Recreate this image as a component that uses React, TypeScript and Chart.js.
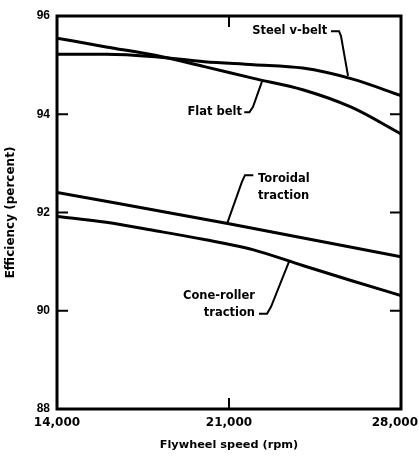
import React, { useEffect, useRef } from "react";
import { Chart, registerables } from "chart.js";

Chart.register(...registerables);

const speeds = [14000, 16000, 18000, 20000, 22000, 24000, 26000, 28000];
const steelVBelt = [95.22, 95.22, 95.17, 95.07, 95.01, 94.94, 94.72, 94.38];
const flatBelt = [95.55, 95.37, 95.2, 94.97, 94.73, 94.5, 94.14, 93.6];
const toroidalSpeeds = [14000, 21000, 28000];
const toroidal = [92.41, 91.77, 91.1];
const coneRoller = [91.92, 91.8, 91.63, 91.45, 91.24, 90.92, 90.61, 90.31];

const xTicks = [14000, 21000, 28000];
const yTicks = [88, 90, 92, 94, 96];

// labels: text lines, anchor (rpm, value), alignment, leader polyline in data coords
const labels = [
  {
    lines: ["Steel v-belt"],
    x: 25000, y: 95.69, align: "right",
    leader: [[25150, 95.69], [25477, 95.69], [25558, 95.59], [25844, 94.78]],
  },
  {
    lines: ["Flat belt"],
    x: 21530, y: 94.05, align: "right",
    leader: [[21620, 94.04], [21830, 94.04], [21977, 94.15], [22344, 94.67]],
  },
  {
    lines: ["Toroidal", "traction"],
    x: 22180, y: 92.69, align: "left",
    leader: [[21990, 92.76], [21651, 92.76], [21529, 92.63], [20919, 91.77]],
  },
  {
    lines: ["Cone-roller", "traction"],
    x: 22058, y: 90.31, align: "right",
    leader: [[22221, 89.94], [22547, 89.94], [22710, 90.08], [23443, 91.0]],
  },
];

const FONT = "'DejaVu Sans', 'Liberation Sans', sans-serif";

const framePlugin = {
  id: "frame",
  beforeDraw(chart: any) {
    const xs = chart.scales.x;
    const items = xs.getLabelItems(chart.chartArea);
    if (items && items.length) {
      const last = items[items.length - 1];
      last.options.textAlign = "right";
      last.options.translation = [chart.width - 1, last.options.translation[1]];
    }
  },
  afterDatasetsDraw(chart: any) {
    const { ctx, chartArea } = chart;
    const xs = chart.scales.x;
    const ys = chart.scales.y;
    ctx.save();
    ctx.strokeStyle = "#000";
    ctx.lineWidth = 3;
    ctx.strokeRect(chartArea.left, chartArea.top, chartArea.right - chartArea.left, chartArea.bottom - chartArea.top);
    ctx.lineWidth = 2;
    const tl = 11;
    yTicks.slice(1, -1).forEach((v) => {
      const py = ys.getPixelForValue(v);
      ctx.beginPath();
      ctx.moveTo(chartArea.left, py);
      ctx.lineTo(chartArea.left + tl, py);
      ctx.moveTo(chartArea.right, py);
      ctx.lineTo(chartArea.right - tl, py);
      ctx.stroke();
    });
    xTicks.slice(1, -1).forEach((v) => {
      const px = xs.getPixelForValue(v);
      ctx.beginPath();
      ctx.moveTo(px, chartArea.top);
      ctx.lineTo(px, chartArea.top + tl);
      ctx.moveTo(px, chartArea.bottom);
      ctx.lineTo(px, chartArea.bottom - tl);
      ctx.stroke();
    });
    // labels
    ctx.fillStyle = "#000";
    ctx.font = `bold 11.5px ${FONT}`;
    ctx.textBaseline = "middle";
    labels.forEach((l) => {
      const px = xs.getPixelForValue(l.x);
      const py = ys.getPixelForValue(l.y);
      ctx.textAlign = l.align as CanvasTextAlign;
      l.lines.forEach((t, i) => ctx.fillText(t, px, py + i * 17));
      ctx.lineWidth = 2;
      ctx.beginPath();
      l.leader.forEach(([a, b], i) => {
        const lx = xs.getPixelForValue(a);
        const ly = ys.getPixelForValue(b);
        if (i === 0) ctx.moveTo(lx, ly);
        else ctx.lineTo(lx, ly);
      });
      ctx.stroke();
    });
    ctx.restore();
  },
};

export default function App() {
  const ref = useRef<HTMLCanvasElement>(null);
  useEffect(() => {
    if (!ref.current) return;
    const line = (label: string, xs: number[], ys: number[]) => ({
      label,
      data: xs.map((x, i) => ({ x, y: ys[i] })),
      borderColor: "#000",
      borderWidth: 3,
      pointRadius: 0,
      fill: false,
      cubicInterpolationMode: "monotone" as const,
    });
    const chart = new Chart(ref.current, {
      type: "line",
      data: {
        datasets: [
          line("Steel v-belt", speeds, steelVBelt),
          line("Flat belt", speeds, flatBelt),
          line("Toroidal traction", toroidalSpeeds, toroidal),
          line("Cone-roller traction", speeds, coneRoller),
        ],
      },
      options: {
        animation: false,
        responsive: false,
        devicePixelRatio: 1,
        layout: { padding: { left: 0, right: 18, top: 16, bottom: 0 } },
        plugins: { legend: { display: false }, tooltip: { enabled: false } },
        scales: {
          x: {
            type: "linear",
            min: 14000,
            max: 28000,
            afterBuildTicks: (s: any) => {
              s.ticks = xTicks.map((v) => ({ value: v }));
            },
            afterFit: (s: any) => {
              s.height = 47;
              s.paddingLeft = 0;
              s.paddingRight = 0;
            },
            grid: { display: false, drawTicks: false },
            border: { display: false },
            ticks: {
              color: "#000",
              padding: 7,
              maxRotation: 0,
              font: { family: FONT, size: 12, weight: "bold" },
              callback: (v: any) => Number(v).toLocaleString("en-US"),
            },
            title: {
              display: true,
              text: "Flywheel speed (rpm)",
              color: "#000",
              font: { family: FONT, size: 11.3, weight: "bold" },
              padding: { top: 0, bottom: 4 },
            },
          },
          y: {
            min: 88,
            max: 96,
            afterBuildTicks: (s: any) => {
              s.ticks = yTicks.map((v) => ({ value: v }));
            },
            afterFit: (s: any) => {
              s.width = 57;
              s.paddingTop = 0;
              s.paddingBottom = 0;
            },
            grid: { display: false, drawTicks: false },
            border: { display: false },
            ticks: {
              color: "#000",
              padding: 7,
              font: { family: "'Liberation Sans', sans-serif", size: 12, weight: "bold" },
            },
            title: {
              display: true,
              text: "Efficiency (percent)",
              color: "#000",
              font: { family: FONT, size: 12, weight: "bold" },
              padding: { top: 4, bottom: 0 },
            },
          },
        },
      },
      plugins: [framePlugin],
    });
    return () => chart.destroy();
  }, []);
  return (
    <div style={{ position: "absolute", left: 0, top: 0, width: 419, height: 456, background: "#fff" }}>
      <canvas ref={ref} width={419} height={456} />
    </div>
  );
}
